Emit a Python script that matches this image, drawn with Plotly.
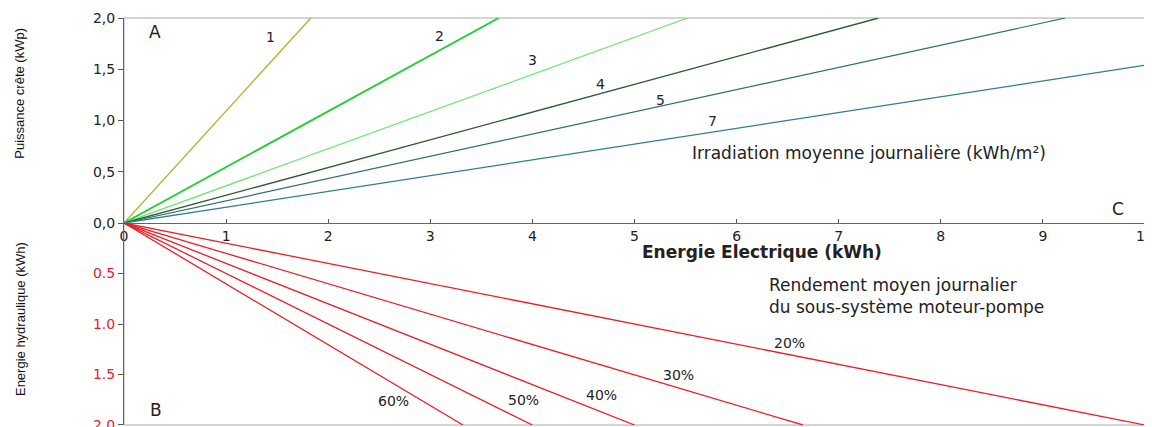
import plotly.graph_objects as go

# ---- data ----
irradiation_labels = ["1", "2", "3", "4", "5", "7"]
irr_end_energy = [1.83, 3.67, 5.52, 7.39, 9.22, 10.0]   # kWh at end of line
irr_end_power = [2.0, 2.0, 2.0, 2.0, 2.0, 1.54]        # kWp at end of line
irr_colors = ["#b4b434", "#22cc33", "#6ee46e", "#2d5a30", "#2f6f6c", "#2f7e8e"]
irr_widths = [1.4, 1.8, 1.2, 1.4, 1.2, 1.3]

efficiency_labels = ["20%", "30%", "40%", "50%", "60%"]
eff_end_energy = [10.0, 6.65, 5.0, 4.0, 3.32]          # kWh electric
eff_end_hydraulic = [2.0, 2.0, 2.0, 2.0, 2.0]          # kWh hydraulic

x_ticks = [0, 1, 2, 3, 4, 5, 6, 7, 8, 9, 10]
top_ticks = [0, 0.5, 1.0, 1.5, 2.0]
top_ticktext = ["0,0", "0,5", "1,0", "1,5", "2,0"]
bot_ticks = [0.5, 1.0, 1.5, 2.0]
bot_ticktext = ["0.5", "1.0", "1.5", "2.0"]

FONT = "Liberation Sans, Arial, sans-serif"
WIDE = "DejaVu Sans, Verdana, sans-serif"

fig = go.Figure()

for lab, ex, ey, c, w in zip(irradiation_labels, irr_end_energy, irr_end_power, irr_colors, irr_widths):
    fig.add_trace(go.Scatter(x=[0, ex], y=[0, ey], mode="lines", name=lab,
                             line=dict(color=c, width=w), xaxis="x", yaxis="y",
                             showlegend=False, hoverinfo="skip"))

for lab, ex, ey in zip(efficiency_labels, eff_end_energy, eff_end_hydraulic):
    fig.add_trace(go.Scatter(x=[0, ex], y=[0, ey], mode="lines", name=lab,
                             line=dict(color="#e8202a", width=1.3), xaxis="x", yaxis="y2",
                             showlegend=False, hoverinfo="skip"))

split = 0.4963

# the page body adds an 8px offset; size/margins compensate for it
fig.update_layout(
    template="none",
    width=1144, height=419,
    margin=dict(l=116, r=7, t=10, b=2, autoexpand=False),
    paper_bgcolor="white", plot_bgcolor="white",
    showlegend=False,
    xaxis=dict(domain=[0, 1], range=[0, 10], anchor="y", tickvals=x_ticks,
               ticks="inside", ticklen=4, tickcolor="#555", showline=True,
               linecolor="#666", linewidth=1, showgrid=False, zeroline=False,
               automargin=False, ticklabeloverflow="allow",
               tickfont=dict(family=WIDE, size=14, color="#222")),
    yaxis=dict(domain=[split, 1], range=[0, 2], anchor="x", tickvals=top_ticks,
               ticktext=top_ticktext, ticks="outside", ticklen=5, tickcolor="#555",
               showline=True, linecolor="#666", linewidth=1, showgrid=False,
               zeroline=False, automargin=False, ticklabeloverflow="allow",
               tickfont=dict(family=WIDE, size=14, color="#222")),
    yaxis2=dict(domain=[0, split], range=[2, 0], anchor="x", tickvals=bot_ticks,
                ticktext=bot_ticktext, ticks="outside", ticklen=5, tickcolor="#555",
                showline=True, linecolor="#666", linewidth=1, showgrid=False,
                zeroline=False, automargin=False, ticklabeloverflow="allow",
                tickfont=dict(family=WIDE, size=14, color="#e8202a")),
)

# frame
fig.add_shape(type="rect", xref="paper", yref="paper", x0=0, x1=1, y0=0, y1=1,
              line=dict(color="#aaaaaa", width=1), layer="below")

def ann(text, x, y, yref="y", size=14, xanchor="center", family=WIDE, **kw):
    fig.add_annotation(text=text, x=x, y=y, xref="x", yref=yref, showarrow=False,
                       xanchor=xanchor, yanchor="middle",
                       font=dict(family=family, size=size, color="#222"), **kw)

# top panel labels
ann("A", 0.30, 1.86, size=17)
ann("1", 1.43, 1.81)
ann("2", 3.09, 1.82)
ann("3", 4.00, 1.59)
ann("4", 4.67, 1.36)
ann("5", 5.25, 1.20)
ann("7", 5.76, 1.00)
ann("Irradiation moyenne journalière (kWh/m²)", 5.54, 0.68, size=17, xanchor="left")
ann("C", 9.74, 0.14, size=17)

# bottom panel labels
ann("B", 0.31, 1.85, yref="y2", size=17)
ann("Rendement moyen journalier<br>du sous-système moteur-pompe", 6.30, 0.72,
    yref="y2", size=17, xanchor="left", align="left")
ann("20%", 6.52, 1.19, yref="y2")
ann("30%", 5.43, 1.50, yref="y2")
ann("40%", 4.68, 1.70, yref="y2")
ann("50%", 3.91, 1.75, yref="y2")
ann("60%", 2.64, 1.76, yref="y2")

# x-axis title
ann("<b>Energie Electrique (kWh)</b>", 6.25, 0.29, yref="y2", size=17)

# y-axis titles
fig.add_annotation(text="Puissance crête (kWp)", xref="paper", yref="paper",
                   x=-0.102, y=0.816, textangle=-90, showarrow=False,
                   xanchor="center", yanchor="middle",
                   font=dict(family=FONT, size=13, color="#111"))
fig.add_annotation(text="Energie hydraulique (kWh)", xref="paper", yref="paper",
                   x=-0.102, y=0.26, textangle=-90, showarrow=False,
                   xanchor="center", yanchor="middle",
                   font=dict(family=FONT, size=13, color="#111"))

fig.write_html("out.html")
